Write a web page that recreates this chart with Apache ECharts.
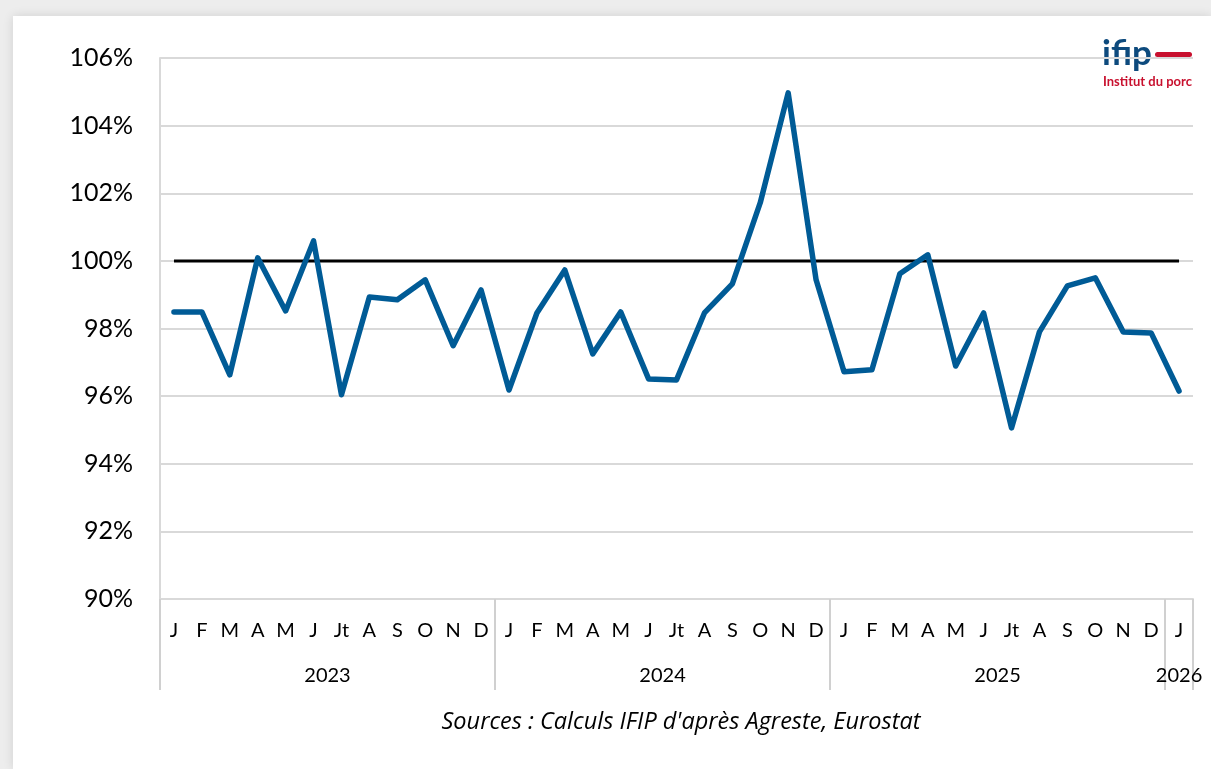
<!DOCTYPE html>
<html>
<head>
<meta charset="utf-8">
<script src="https://cdn.jsdelivr.net/npm/echarts@6/dist/echarts.min.js"></script>
<style>
  html, body { margin: 0; padding: 0; background: #ededed; overflow: hidden; }
  #card {
    position: absolute; left: 13px; top: 16px; width: 1198px; height: 753px;
    background: #fff; box-shadow: 0 0 10px rgba(0,0,0,0.12);
  }
  #main { width: 1198px; height: 753px; }
</style>
</head>
<body>
<div id="card"><div id="main"></div></div>
<script>
// mois, de janvier 2023 à janvier 2026
const months = ["J","F","M","A","M","J","Jt","A","S","O","N","D",
                "J","F","M","A","M","J","Jt","A","S","O","N","D",
                "J","F","M","A","M","J","Jt","A","S","O","N","D",
                "J"];
const years = ["2023", "2024", "2025", "2026"];
// position des années et séparateurs sur l'axe (en nombre de mois)
const yearCenters = [6, 18, 30, 36.5];
const yearBounds = [0, 12, 24, 36, 37];

const ratio = [98.49, 98.49, 96.63, 100.09, 98.52, 100.59, 96.04, 98.93, 98.85, 99.44, 97.49, 99.14,
               96.18, 98.46, 99.73, 97.25, 98.49, 96.51, 96.48, 98.46, 99.32, 101.72, 104.97, 99.44,
               96.72, 96.78, 99.62, 100.18, 96.89, 98.46, 95.06, 97.90, 99.26, 99.50, 97.90, 97.87,
               96.15];
const reference = months.map(() => 100);

const font = "Lato, 'Liberation Sans', sans-serif";

const myChart = echarts.init(document.getElementById("main"));
const option = {
  animation: false,
  textStyle: { fontFamily: font },
  grid: { left: 147, right: 18, top: 42, bottom: 170 },
  xAxis: [
    {
      type: "category",
      data: months,
      boundaryGap: true,
      axisLine: { show: true, lineStyle: { color: "#d9d9d9", width: 2 } },
      axisTick: { show: false },
      axisLabel: { interval: 0, margin: 22, fontSize: 20, color: "#000", fontFamily: font }
    },
    {
      type: "value",
      min: 0,
      max: 37,
      position: "bottom",
      splitLine: { show: false },
      axisLine: { show: false },
      axisTick: {
        show: true,
        customValues: yearBounds,
        length: 91,
        lineStyle: { color: "#d0d0d0", width: 2 }
      },
      axisLabel: {
        customValues: yearCenters,
        margin: 67,
        fontSize: 20,
        color: "#000",
        fontFamily: font,
        formatter: function (v) {
          return years[yearCenters.indexOf(v)] || "";
        }
      }
    }
  ],
  yAxis: {
    type: "value",
    min: 90,
    max: 106,
    interval: 2,
    axisLine: { show: true, lineStyle: { color: "#d9d9d9", width: 2 } },
    axisTick: { show: false },
    splitLine: { lineStyle: { color: "#d9d9d9", width: 2 } },
    axisLabel: { margin: 27, fontSize: 25, color: "#000", fontFamily: font, formatter: "{value}%" }
  },
  series: [
    {
      type: "line",
      data: reference,
      symbol: "none",
      lineStyle: { color: "#000", width: 3 },
      z: 2
    },
    {
      type: "line",
      data: ratio,
      symbol: "none",
      lineStyle: { color: "#005b96", width: 5.5, join: "round", cap: "round" },
      z: 3
    }
  ],
  graphic: [
    {
      type: "text", x: 1089, y: 20,
      style: { text: "ifip", font: "bold 35px " + font, fill: "#0d4a7d" }
    },
    {
      type: "rect", x: 1142, y: 36,
      shape: { width: 37, height: 5, r: 2.5 },
      style: { fill: "#c8102e" }
    },
    {
      type: "text", x: 1090, y: 59,
      style: { text: "Institut du porc", font: "bold 13px " + font, fill: "#c8102e" }
    },
    {
      type: "text", x: 668, y: 706,
      style: {
        text: "Sources : Calculs IFIP d'après Agreste, Eurostat",
        font: "italic 23.5px 'Open Sans', sans-serif", fill: "#000", align: "center", verticalAlign: "middle"
      }
    }
  ]
};
myChart.setOption(option);
</script>
</body>
</html>
